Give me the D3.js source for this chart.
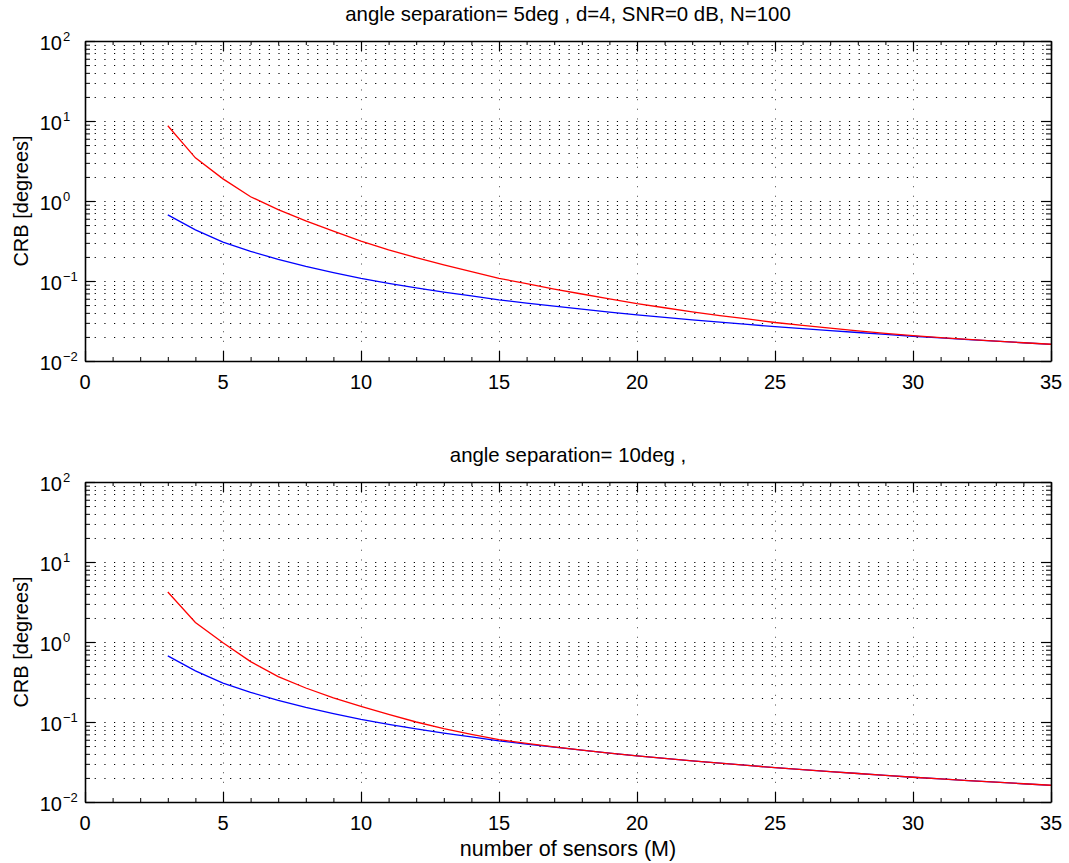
<!DOCTYPE html>
<html>
<head>
<meta charset="utf-8">
<script src="https://cdn.jsdelivr.net/npm/d3@7"></script>
<style>
body{margin:0;background:#fff}
text{font-family:"Liberation Sans",Arial,Helvetica,sans-serif;fill:#000}
</style>
</head>
<body>
<svg></svg>
<script>
// number of sensors M
var sensors = [3,4,5,6,7,8,9,10,11,12,13,14,15,16,17,18,19,20,21,22,23,24,25,26,27,28,29,30,31,32,33,34,35]

// blue curve (same in both panels)
var crbBlue = [0.670,0.435,0.307,0.235,0.186,0.152,0.127,0.108,0.0936,0.0820,0.0727,0.0650,0.0580,0.0530,0.0484,0.0444,0.0409,0.0378,0.0351,0.0327,0.0306,0.0287,0.0269,0.0254,0.0240,0.0227,0.0215,0.0204,0.0194,0.0185,0.0177,0.0169,0.0161]

// red curve, angle separation 5deg
var crbRed5deg = [8.73,3.46,1.89,1.13,0.78,0.565,0.42,0.315,0.2450,0.196,0.1595,0.1310,0.108,0.0928,0.0794,0.0688,0.0597,0.052,0.0463,0.0412,0.0370,0.0336,0.0303,0.0279,0.0257,0.0238,0.0221,0.0207,0.0196,0.0186,0.0177,0.0169,0.0162]

// red curve, angle separation 10deg
var crbRed10deg = [4.22,1.75,0.98,0.568,0.369,0.266,0.200,0.157,0.1245,0.100,0.0829,0.0702,0.0603,0.0541,0.0489,0.0444,0.0409,0.0378,0.0351,0.0327,0.0306,0.0287,0.0269,0.0254,0.0240,0.0227,0.0215,0.0204,0.0194,0.0185,0.0177,0.0169,0.0162]

var xTicks = [0,5,10,15,20,25,30,35]
var yExponents = [-2,-1,0,1,2]
var titles = ["angle separation= 5deg , d=4, SNR=0 dB, N=100","angle separation= 10deg ,"]
var xLabel = "number of sensors (M)"
var yLabel = "CRB [degrees]"

var screen = {width:1069,height:863}
var plot = {left:85,right:1051,height:320}
var panelTops = [41,482]

var svg = d3.select("svg")
    .attr("width",screen.width)
    .attr("height",screen.height)

var xScale = d3.scaleLinear()
    .domain([0,35])
    .range([0,plot.right-plot.left])

var yScale = d3.scaleLog()
    .domain([0.01,100])
    .range([plot.height,0])

// minor tick positions: 2..9 times each decade
var yMinor = []
for (var k=-2;k<2;k++)
{
    for (var m=2;m<10;m++) yMinor.push(m*Math.pow(10,k))
}
var xMinor = d3.range(0,36).filter(function(v){return v%5!=0})

var drawPanel = function(top,title,redValues,withXLabel)
{
    var width = plot.right-plot.left
    var g = svg.append("g")
        .attr("transform","translate("+plot.left+","+top+")")

    //dotted grid
    var grid = g.append("g").attr("class","grid")
    var hLines = yMinor.concat([0.1,1,10])
    grid.selectAll(".hgrid")
        .data(hLines)
        .enter()
        .append("line")
        .attr("x1",0).attr("x2",width)
        .attr("y1",function(v){return Math.round(yScale(v))+0.5})
        .attr("y2",function(v){return Math.round(yScale(v))+0.5})
        .attr("stroke","#000")
        .attr("stroke-width",1)
        .attr("stroke-dasharray","1.2,8.47")
    grid.selectAll(".vgrid")
        .data(xTicks.slice(1,-1))
        .enter()
        .append("line")
        .attr("y1",0).attr("y2",plot.height)
        .attr("x1",function(v){return Math.round(xScale(v))+0.5})
        .attr("x2",function(v){return Math.round(xScale(v))+0.5})
        .attr("stroke","#666")
        .attr("stroke-width",1)
        .attr("stroke-dasharray","1.2,8.47")

    //curves
    var line = d3.line()
        .x(function(d){return xScale(d[0])})
        .y(function(d){return yScale(d[1])})
    g.append("path")
        .datum(d3.zip(sensors,crbBlue))
        .attr("d",line)
        .attr("fill","none")
        .attr("stroke","#0000ff")
        .attr("stroke-width",1.3)
    g.append("path")
        .datum(d3.zip(sensors,redValues))
        .attr("d",line)
        .attr("fill","none")
        .attr("stroke","#ff0000")
        .attr("stroke-width",1.3)

    //axes with inward ticks (box on)
    var yMajor = yExponents.map(function(e){return Math.pow(10,e)})
    var axes = [
        {a:d3.axisBottom, t:"translate(0,"+plot.height+")", s:xScale, major:xTicks, minor:xMinor, minorLen:4},
        {a:d3.axisTop, t:"translate(0,0)", s:xScale, major:xTicks, minor:xMinor, minorLen:4},
        {a:d3.axisLeft, t:"translate(0,0)", s:yScale, major:yMajor, minor:yMinor, minorLen:5},
        {a:d3.axisRight, t:"translate("+width+",0)", s:yScale, major:yMajor, minor:yMinor, minorLen:5}
    ]
    axes.forEach(function(ax)
    {
        g.append("g")
            .attr("transform",ax.t)
            .call(ax.a(ax.s).tickValues(ax.minor).tickSizeInner(-ax.minorLen).tickSizeOuter(0).tickFormat(""))
            .call(function(sel){sel.select(".domain").remove()})
            .selectAll("line").attr("stroke-width",1)
        g.append("g")
            .attr("class","major")
            .attr("transform",ax.t)
            .call(ax.a(ax.s).tickValues(ax.major).tickSizeInner(-10).tickSizeOuter(0).tickFormat(""))
            .call(function(sel){sel.select(".domain").attr("stroke-width",1.6)})
            .selectAll("line").attr("stroke-width",1.2)
    })

    //x tick labels
    g.selectAll(".xlab")
        .data(xTicks)
        .enter()
        .append("text")
        .attr("x",function(v){return xScale(v)})
        .attr("y",plot.height+28)
        .attr("text-anchor","middle")
        .style("font-size","20px")
        .text(function(v){return v})

    //y tick labels 10^e
    var yl = g.selectAll(".ylab")
        .data(yExponents)
        .enter()
        .append("g")
    yl.append("text")
        .attr("x",-23)
        .attr("y",function(e){return yScale(Math.pow(10,e))+8.5})
        .attr("text-anchor","end")
        .style("font-size","20px")
        .text("10")
    yl.append("text")
        .attr("x",-22)
        .attr("y",function(e){return yScale(Math.pow(10,e))-0.5})
        .style("font-size","13px")
        .text(function(e){return e<0 ? "\u2212"+Math.abs(e) : e})

    //title
    g.append("text")
        .attr("x",width/2)
        .attr("y",-20)
        .attr("text-anchor","middle")
        .style("font-size","20.4px")
        .text(title)

    //y label
    g.append("text")
        .attr("transform","translate(-57,"+(plot.height/2)+") rotate(-90)")
        .attr("text-anchor","middle")
        .style("font-size","20px")
        .text(yLabel)

    if (withXLabel)
    {
        g.append("text")
            .attr("x",width/2)
            .attr("y",plot.height+54)
            .attr("text-anchor","middle")
            .style("font-size","21.5px")
            .text(xLabel)
    }
}

drawPanel(panelTops[0],titles[0],crbRed5deg,false)
drawPanel(panelTops[1],titles[1],crbRed10deg,true)
</script>
</body>
</html>
